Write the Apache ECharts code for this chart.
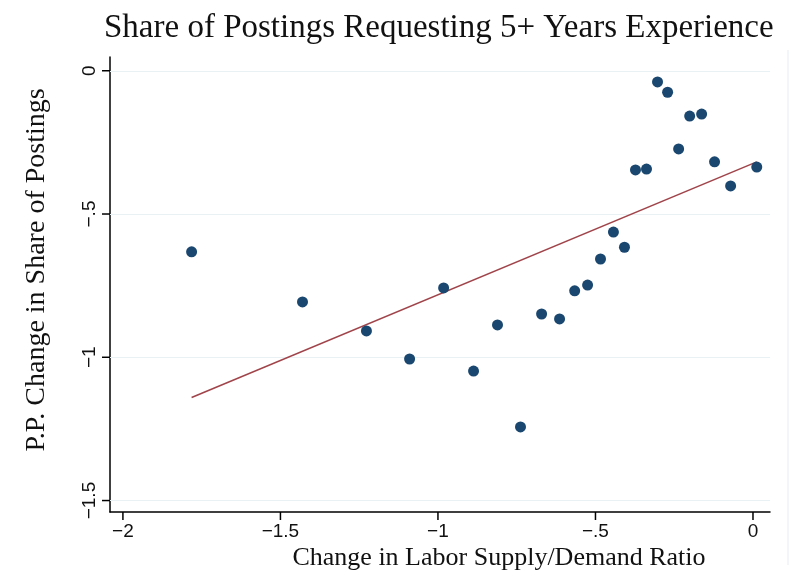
<!DOCTYPE html>
<html>
<head>
<meta charset="utf-8">
<script src="https://cdn.jsdelivr.net/npm/echarts@6/dist/echarts.min.js"></script>
<style>
  html, body { margin: 0; padding: 0; background: #fff; }
  #chart { width: 793px; height: 576px; }
</style>
</head>
<body>
<div id="chart"></div>
<script>
// values
const supplyDemandChange = [-1.782, -1.430, -1.227, -1.090, -0.982, -0.887, -0.811, -0.738, -0.671, -0.614,
  -0.566, -0.525, -0.484, -0.443, -0.408, -0.373, -0.338, -0.303, -0.271, -0.236, -0.201, -0.163, -0.122,
  -0.071, 0.012];
const shareChange = [-0.632, -0.807, -0.908, -1.006, -0.758, -1.048, -0.887, -1.243, -0.849, -0.866,
  -0.768, -0.748, -0.657, -0.563, -0.616, -0.346, -0.343, -0.039, -0.075, -0.273, -0.158, -0.151, -0.318,
  -0.402, -0.336];
// fitted line end points
const fitX = [-1.782, 0.012];
const fitY = [-1.140, -0.318];
const xTicks = [-2, -1.5, -1, -0.5, 0];
const yTicks = [0, -0.5, -1, -1.5];

// axis ranges (a bit wider than the ticks, like the original)
const xRange = [-2.041, 0.054];
const yRange = [-1.54, 0.048];
const plot = { left: 110, right: 23, top: 57, bottom: 64 };
const W = 793, H = 576;

const fmt = v => v === 0 ? '0' : '\u2212' + String(Math.abs(v)).replace(/^0/, '');
const labelFont = { color: '#111', fontFamily: 'Liberation Sans', fontSize: 19 };

// tick marks follow the same linear mapping as the axes
const xPx = v => plot.left + (v - xRange[0]) / (xRange[1] - xRange[0]) * (W - plot.left - plot.right);
const yPx = v => plot.top + (yRange[1] - v) / (yRange[1] - yRange[0]) * (H - plot.top - plot.bottom);
const baseY = H - plot.bottom, baseX = plot.left;
const tickMarks = [].concat(
  xTicks.map((v, i) => ({
    id: 'xt' + i, type: 'line', z: 10,
    shape: { x1: xPx(v), y1: baseY, x2: xPx(v), y2: baseY + 8 },
    style: { stroke: '#000', lineWidth: 1.5 }
  })),
  yTicks.map((v, i) => ({
    id: 'yt' + i, type: 'line', z: 10,
    shape: { x1: baseX, y1: yPx(v), x2: baseX - 8, y2: yPx(v) },
    style: { stroke: '#000', lineWidth: 1.5 }
  }))
);

const chart = echarts.init(document.getElementById('chart'));

const option = {
  backgroundColor: '#fff',
  animation: false,
  grid: plot,
  xAxis: {
    type: 'value', min: xRange[0], max: xRange[1],
    axisLine: { onZero: false, lineStyle: { color: '#000', width: 1.5 } },
    axisTick: { show: false },
    axisLabel: Object.assign({ customValues: xTicks, formatter: fmt, margin: 10 }, labelFont),
    splitLine: { show: false }
  },
  yAxis: {
    type: 'value', min: yRange[0], max: yRange[1],
    axisLine: { onZero: false, lineStyle: { color: '#000', width: 1.5 } },
    axisTick: { show: false },
    axisLabel: Object.assign({ customValues: yTicks, formatter: fmt, rotate: 90, margin: 11 }, labelFont),
    splitLine: { show: false }
  },
  series: [
    {
      // horizontal grid lines
      type: 'line',
      data: [],
      z: 1,
      markLine: {
        silent: true,
        z: 1,
        symbol: 'none',
        label: { show: false },
        lineStyle: { color: '#eaf1f4', width: 1.2, type: 'solid' },
        data: yTicks.map(v => ({ yAxis: v }))
      }
    },
    {
      type: 'line',
      data: fitX.map((x, i) => [x, fitY[i]]),
      showSymbol: false,
      lineStyle: { color: '#a0444a', width: 1.6 },
      z: 2
    },
    {
      type: 'scatter',
      data: supplyDemandChange.map((x, i) => [x, shareChange[i]]),
      symbolSize: 11,
      itemStyle: { color: '#1a476f', opacity: 1 },
      z: 3
    }
  ],
  graphic: [
    {
      id: 'title', type: 'text', left: 104, top: 12,
      style: { text: 'Share of Postings Requesting 5+ Years Experience', font: '33px "Liberation Serif"', fill: '#111' }
    },
    {
      id: 'xname', type: 'text', x: 499, y: 558,
      style: { text: 'Change in Labor Supply/Demand Ratio', font: '26px "Liberation Serif"', fill: '#111', align: 'center', verticalAlign: 'middle' }
    },
    {
      id: 'yname', type: 'text', x: 37, y: 270, rotation: Math.PI / 2,
      style: { text: 'P.P. Change in Share of Postings', font: '28px "Liberation Serif"', fill: '#111', align: 'center', verticalAlign: 'middle' }
    },
    {
      id: 'frame', type: 'line', shape: { x1: 788, y1: 50, x2: 788, y2: 565 },
      style: { stroke: '#eef3f6', lineWidth: 1.5 }
    }
  ].concat(tickMarks)
};

chart.setOption(option);
</script>
</body>
</html>
